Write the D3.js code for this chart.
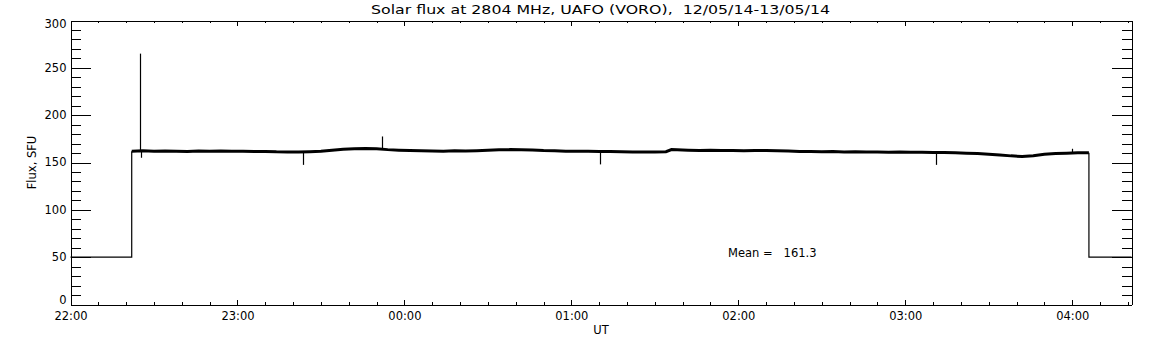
<!DOCTYPE html>
<html>
<head>
<meta charset="utf-8">
<script src="https://cdn.jsdelivr.net/npm/d3@7"></script>
<style>
  body { margin: 0; background: #fff; }
  svg { display: block; }
  text { font-family: "DejaVu Sans", sans-serif; fill: #000; }
</style>
</head>
<body>
<div id="chart"></div>
<script>
// minutes after 22:00 UT
var xEnd = 381.3;
var xTickMinutes = [0, 60, 120, 180, 240, 300, 360];
var xTickLabels = ["22:00", "23:00", "00:00", "01:00", "02:00", "03:00", "04:00"];
var yTicks = [0, 50, 100, 150, 200, 250, 300];

// receiver idle level before and after the observation
var idleLevel = 50;
var idleBefore = [0, 22];
var idleAfter = [366, xEnd];

// flux, SFU
var fluxMinutes = [22, 26, 30, 34, 38, 42, 46, 50, 54, 58, 62, 66, 70, 74, 78, 82, 86, 90, 94, 98,
  102, 106, 110, 114, 118, 122, 126, 130, 134, 138, 142, 146, 150, 154, 158, 162, 166, 170, 174, 178,
  182, 186, 190, 194, 198, 202, 206, 210, 214, 216, 218, 222, 226, 230, 234, 238, 242, 246, 250, 254,
  258, 262, 266, 270, 274, 278, 282, 286, 290, 294, 298, 302, 306, 310, 314, 318, 322, 326, 330, 334,
  338, 342, 346, 350, 354, 358, 362, 366];
var fluxValues = [162.0, 162.3, 161.8, 162.2, 162.0, 161.7, 162.1, 161.9, 162.2, 161.8, 161.9, 161.5, 161.7, 161.3, 161.2, 161.0, 161.4, 162.0, 163.0, 164.0,
  164.6, 164.8, 164.5, 163.6, 163.0, 162.6, 162.4, 162.2, 162.0, 162.3, 162.1, 162.5, 162.9, 163.4, 163.6, 163.5, 163.2, 162.6, 162.4, 162.0,
  161.8, 161.9, 161.6, 161.7, 161.4, 161.2, 161.0, 161.1, 161.4, 163.6, 163.4, 163.0, 162.7, 162.9, 162.6, 162.8, 162.5, 162.7, 162.6, 162.3,
  162.1, 161.7, 161.5, 161.4, 161.5, 161.2, 161.3, 161.0, 161.1, 160.9, 161.0, 160.7, 160.8, 160.5, 160.6, 160.2, 159.8, 159.4, 158.8, 158.0,
  157.0, 156.4, 157.2, 158.6, 159.4, 159.8, 160.2, 160.4];

// short bursts / dropouts
var spikeMinutes = [24.8, 25.5, 83.4, 111.8, 190.4, 311.2, 360];
var spikeBase = [162.0, 162.0, 161.0, 164.5, 161.6, 160.5, 160.2];
var spikeValues = [265, 155, 147.5, 177.5, 148, 147.5, 164.5];

var meanFlux = "161.3";

var W = 1152, H = 345;
var svg = d3.select("#chart").append("svg").attr("width", W).attr("height", H);

var x = d3.scaleLinear().domain([0, xEnd]).range([70.5, 1131.5]);
var y = d3.scaleLinear().domain([0, 300]).range([304.5, 20.5]);

var minorX = d3.range(0, xEnd, 10);
var minorY = d3.range(0, 301, 10);

function clean(g) {
  g.selectAll("line").attr("stroke", "#000").attr("shape-rendering", "crispEdges");
  g.selectAll(".domain").attr("stroke", "#000").attr("shape-rendering", "crispEdges");
  g.selectAll("text").attr("font-family", null).attr("font-size", null);
}

// bottom axis
svg.append("g").attr("transform", "translate(0,304.5)")
  .call(d3.axisBottom(x).tickValues(minorX).tickSize(-2.5).tickSizeOuter(0).tickFormat(""))
  .call(clean);
var bx = svg.append("g").attr("transform", "translate(0,304.5)")
  .call(d3.axisBottom(x).tickValues(xTickMinutes).tickSize(-5).tickSizeOuter(0).tickPadding(7.5)
    .tickFormat(function (d, i) { return xTickLabels[i]; }))
  .call(clean);
bx.selectAll("text").style("font-size", "11.5px");

// top axis
svg.append("g").attr("transform", "translate(0,20.5)")
  .call(d3.axisTop(x).tickValues(minorX).tickSize(-2.5).tickSizeOuter(0).tickFormat(""))
  .call(clean);
svg.append("g").attr("transform", "translate(0,20.5)")
  .call(d3.axisTop(x).tickValues(xTickMinutes).tickSize(-5).tickSizeOuter(0).tickFormat(""))
  .call(clean);

// left axis
svg.append("g").attr("transform", "translate(70.5,0)")
  .call(d3.axisLeft(y).tickValues(minorY).tickSize(-10).tickSizeOuter(0).tickFormat(""))
  .call(clean);
var ly = svg.append("g").attr("transform", "translate(70.5,0)")
  .call(d3.axisLeft(y).tickValues(yTicks).tickSize(-20).tickSizeOuter(0).tickPadding(4))
  .call(clean);
ly.selectAll("text").style("font-size", "11.5px")
  .attr("dy", function (d) { return d === 0 ? "-0.05em" : d === 300 ? "0.62em" : "0.28em"; });

// right axis
svg.append("g").attr("transform", "translate(1131.5,0)")
  .call(d3.axisRight(y).tickValues(minorY).tickSize(-10).tickSizeOuter(0).tickFormat(""))
  .call(clean);
svg.append("g").attr("transform", "translate(1131.5,0)")
  .call(d3.axisRight(y).tickValues(yTicks).tickSize(-20).tickSizeOuter(0).tickFormat(""))
  .call(clean);

// idle level and steps (thin)
var line = d3.line().x(function (d) { return x(d[0]); }).y(function (d) { return y(d[1]); });
var first = fluxValues[0], last = fluxValues[fluxValues.length - 1];
svg.append("path")
  .attr("d", line([[idleBefore[0], idleLevel], [idleBefore[1], idleLevel], [idleBefore[1], first]]))
  .attr("fill", "none").attr("stroke", "#000").attr("stroke-width", 1.2);
svg.append("path")
  .attr("d", line([[idleAfter[0], last], [idleAfter[0], idleLevel], [idleAfter[1], idleLevel]]))
  .attr("fill", "none").attr("stroke", "#000").attr("stroke-width", 1.2);

// spikes
svg.selectAll(".spike").data(spikeMinutes).enter().append("line")
  .attr("class", "spike")
  .attr("x1", function (d) { return Math.round(x(d)) + 0.5; })
  .attr("x2", function (d) { return Math.round(x(d)) + 0.5; })
  .attr("y1", function (d, i) { return y(spikeBase[i]); })
  .attr("y2", function (d, i) { return y(spikeValues[i]); })
  .attr("stroke", "#000").attr("stroke-width", 1.2);

// flux (thick, noisy in the original)
svg.append("path")
  .attr("d", line(fluxMinutes.map(function (m, i) { return [m, fluxValues[i]]; })))
  .attr("fill", "none").attr("stroke", "#000").attr("stroke-width", 3);

// labels
svg.append("text")
  .attr("x", 600.5).attr("y", 14)
  .attr("text-anchor", "middle")
  .style("font-size", "13px")
  .attr("textLength", 459).attr("lengthAdjust", "spacingAndGlyphs")
  .text("Solar flux at 2804 MHz, UAFO (VORO),  12/05/14-13/05/14")
  .style("white-space", "pre");

svg.append("text")
  .attr("transform", "translate(36,162.5) rotate(-90)")
  .attr("text-anchor", "middle")
  .style("font-size", "11.5px")
  .text("Flux, SFU");

svg.append("text")
  .attr("x", 601).attr("y", 334)
  .attr("text-anchor", "middle")
  .style("font-size", "11.5px")
  .text("UT");

svg.append("text")
  .attr("x", 728).attr("y", 256.5)
  .style("font-size", "11.5px").style("white-space", "pre")
  .text("Mean =   " + meanFlux);
</script>
</body>
</html>
